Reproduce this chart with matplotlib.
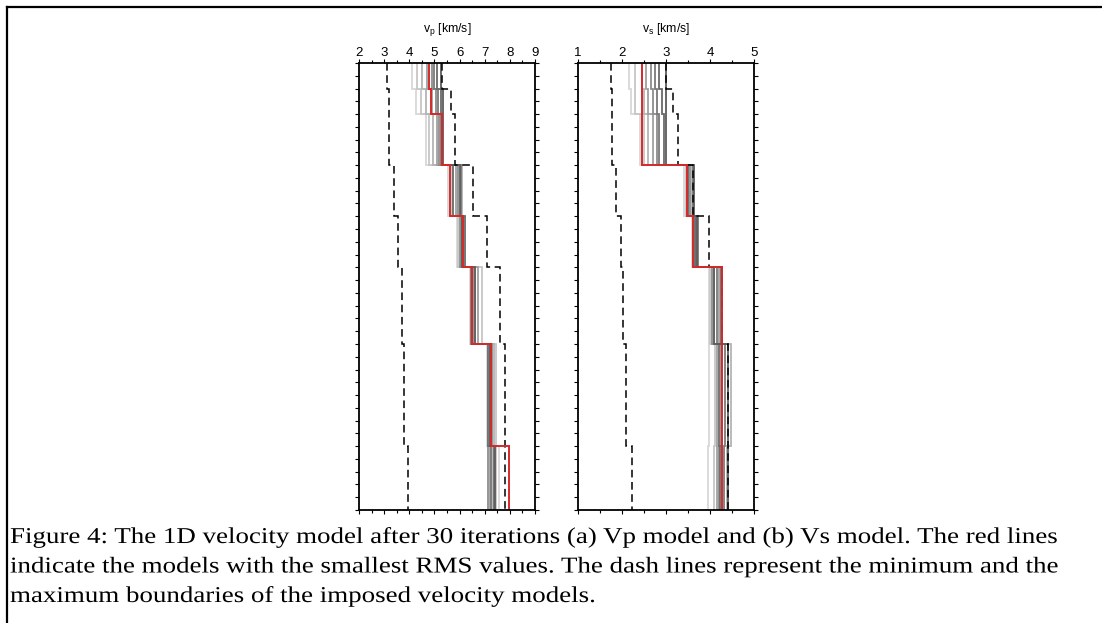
import numpy as np
import matplotlib.pyplot as plt
import matplotlib.patheffects as pe
from matplotlib.lines import Line2D
from matplotlib.ticker import MultipleLocator
from matplotlib.transforms import Affine2D

# layer boundaries (depth, arbitrary units, increasing downwards)
depth_edges = [0, 2, 4, 8, 12, 16, 22, 30, 35]

# imposed bounds (dashed)
vp_min = [3.1, 3.2, 3.2, 3.4, 3.55, 3.7, 3.8, 3.95]
vp_max = [5.3, 5.65, 5.82, 6.52, 7.08, 7.61, 7.81, 7.81]
vs_min = [1.74, 1.78, 1.78, 1.86, 1.97, 2.03, 2.1, 2.22]
vs_max = [3.0, 3.17, 3.27, 3.62, 3.98, 4.27, 4.4, 4.4]

# smallest RMS model (red)
vp_best = [4.8, 4.85, 5.3, 5.6, 6.12, 6.48, 7.24, 7.98]
vs_best = [2.45, 2.45, 2.45, 3.47, 3.62, 4.27, 4.27, 4.27]

# ensemble of inverted models, light -> dark
vp_models = [
    [4.1, 4.25, 4.65, 5.55, 5.9, 6.4, 7.1, 7.55],
    [4.3, 4.45, 4.8, 5.7, 5.95, 6.9, 7.45, 7.45],
    [4.5, 4.65, 4.95, 6.1, 6.05, 6.6, 7.35, 7.3],
    [4.7, 4.9, 5.1, 5.85, 6.15, 6.75, 7.2, 7.2],
    [4.9, 5.05, 5.2, 5.95, 6.0, 6.55, 7.3, 7.15],
    [5.0, 5.15, 5.25, 6.05, 6.1, 6.45, 7.25, 7.25],
    [5.1, 5.25, 5.3, 5.75, 6.2, 6.5, 7.15, 7.35],
    [5.25, 5.35, 5.35, 6.0, 6.1, 6.6, 7.2, 7.4],
]
vs_models = [
    [2.15, 2.2, 2.42, 3.4, 3.6, 3.97, 3.97, 3.95],
    [2.3, 2.3, 2.5, 3.45, 3.65, 4.0, 4.12, 4.1],
    [2.45, 2.5, 2.6, 3.6, 3.7, 4.1, 4.48, 4.38],
    [2.55, 2.6, 2.7, 3.5, 3.62, 4.2, 4.15, 4.15],
    [2.65, 2.7, 2.8, 3.55, 3.68, 4.05, 4.25, 4.2],
    [2.75, 2.8, 2.85, 3.62, 3.72, 4.15, 4.35, 4.32],
    [2.85, 2.9, 2.95, 3.5, 3.65, 4.25, 4.2, 4.22],
    [3.0, 3.0, 3.0, 3.64, 3.7, 4.1, 4.4, 4.4],
]
model_greys = ['#d8d8d8', '#c6c6c6', '#b4b4b4', '#a0a0a0',
               '#8c8c8c', '#7a7a7a', '#6a6a6a', '#5c5c5c']

caption = [
    'Figure 4: The 1D velocity model after 30 iterations (a) Vp model and (b) Vs model. The red lines',
    'indicate the models with the smallest RMS values. The dash lines represent the minimum and the',
    'maximum boundaries of the imposed velocity models.',
]

plt.rcParams['font.family'] = ['Liberation Sans', 'DejaVu Sans']
plt.rcParams['mathtext.fontset'] = 'custom'
plt.rcParams['mathtext.rm'] = 'Liberation Sans'
plt.rcParams['mathtext.it'] = 'Liberation Sans'


class StretchX(pe.AbstractPathEffect):
    # the scanned caption is wider than it is tall, so widen the glyphs a bit
    def __init__(self, sx):
        super().__init__()
        self.sx = sx

    def draw_path(self, renderer, gc, tpath, affine, rgbFace=None):
        ox, oy = affine.transform((0, 0))
        affine = affine + Affine2D().translate(-ox, -oy).scale(self.sx, 1).translate(ox, oy)
        renderer.draw_path(gc, tpath, affine, rgbFace)


def draw_panel(ax, models, vmin, vmax, best, xlim, title):
    for m, c in zip(models, model_greys):
        ax.stairs(m, depth_edges, orientation='horizontal', baseline=None,
                  color=c, lw=1.3)
    for b in (vmin, vmax):
        ax.stairs(b, depth_edges, orientation='horizontal', baseline=None,
                  color='black', lw=1.1, linestyle=(0, (5, 3)))
    ax.stairs(best, depth_edges, orientation='horizontal', baseline=None,
              color='#d42a2a', lw=1.4)
    ax.set_xlim(*xlim)
    ax.set_ylim(depth_edges[-1], depth_edges[0])
    ax.xaxis.set_major_locator(MultipleLocator(1))
    ax.xaxis.set_minor_locator(MultipleLocator(0.5))
    ax.yaxis.set_major_locator(MultipleLocator(1))
    ax.tick_params(axis='both', which='both', direction='out', width=0.8,
                   top=True, bottom=True, left=True, right=True,
                   labeltop=True, labelbottom=False, labelleft=False,
                   labelright=False, labelsize=9.5, pad=0.3)
    ax.tick_params(axis='both', which='major', length=2.8)
    ax.tick_params(axis='both', which='minor', length=2.0)
    ax.set_title(title, fontsize=8.8, pad=10.5)
    for s in ax.spines.values():
        s.set_linewidth(1.3)


fig = plt.figure(figsize=(11.02, 6.23), dpi=100)
ax_p = fig.add_axes([359 / 1102, 1 - 510 / 623, 176 / 1102, 447 / 623])
ax_s = fig.add_axes([578 / 1102, 1 - 510 / 623, 176 / 1102, 447 / 623])

draw_panel(ax_p, vp_models, vp_min, vp_max, vp_best, (2, 9), r'v$_{\rm p}$ [km/s]')
draw_panel(ax_s, vs_models, vs_min, vs_max, vs_best, (1, 5), r'v$_{\rm s}$ [km/s]')

# frame around the figure (top and left edges visible)
fig.add_artist(Line2D([7 / 1102, 1], [1 - 7 / 623, 1 - 7 / 623], color='black', lw=1.6))
fig.add_artist(Line2D([7 / 1102, 7 / 1102], [0, 1 - 7 / 623], color='black', lw=1.6))

for i, line in enumerate(caption):
    fig.text(10 / 1102, 1 - (543 + 29.5 * i) / 623, line, family='Liberation Serif',
             fontsize=16.3, ha='left', va='baseline',
             path_effects=[StretchX(1.19)])

fig.savefig('out.png', dpi=100)
